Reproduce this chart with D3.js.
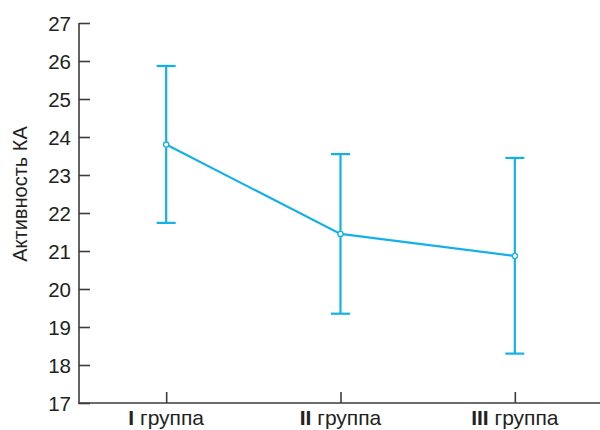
<!DOCTYPE html>
<html>
<head>
<meta charset="utf-8">
<script src="https://cdn.jsdelivr.net/npm/d3@7"></script>
<style>
  html, body { margin: 0; padding: 0; background: #fff; }
  svg { display: block; font-family: "Liberation Sans", Arial, sans-serif; }
</style>
</head>
<body>
<svg id="chart" width="600" height="430"></svg>
<script>
// Group labels (Roman numeral drawn bold) and measured activity
const groupNumerals = ["I", "II", "III"];
const groupWord = "группа";
const means = [23.8, 21.45, 20.87];
const upper = [25.87, 23.55, 23.45];
const lower = [21.74, 19.35, 18.3];
const yTicks = [17, 18, 19, 20, 21, 22, 23, 24, 25, 26, 27];
const yTitle = "Активность КА";

const svg = d3.select("#chart");
const color = "#14b1e7";
const axisColor = "#3c3c3c";

const x = d3.scalePoint().domain(groupNumerals).range([79, 602]).padding(0.5);
const y = d3.scaleLinear().domain([17, 27]).range([403, 23]);

// Y axis with inward ticks
const yAxis = svg.append("g").attr("transform", "translate(79,0)")
  .call(d3.axisRight(y).tickValues(yTicks).tickSize(11).tickSizeOuter(0).tickFormat(d3.format("d")));
yAxis.select(".domain").remove();
yAxis.selectAll(".tick line").attr("stroke", axisColor).attr("stroke-width", 1.6);
yAxis.selectAll(".tick text")
  .attr("x", -8).attr("text-anchor", "end")
  .attr("font-size", 20.5).attr("fill", "#222").attr("dy", "0.35em");
svg.append("line").attr("x1", 79).attr("x2", 79).attr("y1", y(27)).attr("y2", 403.8)
  .attr("stroke", axisColor).attr("stroke-width", 1.6);

// X axis with upward ticks
const xAxis = svg.append("g").attr("transform", "translate(0,403)")
  .call(d3.axisTop(x).tickSize(11).tickSizeOuter(0).tickFormat(""));
xAxis.select(".domain").remove();
xAxis.selectAll(".tick line").attr("stroke", axisColor).attr("stroke-width", 1.6);
svg.append("line").attr("x1", 78.2).attr("x2", 600).attr("y1", 403).attr("y2", 403)
  .attr("stroke", axisColor).attr("stroke-width", 1.6);

// Category labels
const lbl = svg.append("g").selectAll("text").data(groupNumerals).join("text")
  .attr("x", d => x(d)).attr("y", 424.5)
  .attr("text-anchor", "middle").attr("font-size", 21).attr("fill", "#222");
lbl.append("tspan").attr("font-weight", "bold").text(d => d);
lbl.append("tspan").text(" " + groupWord);

// Y axis title
svg.append("text")
  .attr("transform", `translate(27,${y(22.5)}) rotate(-90)`)
  .attr("text-anchor", "middle").attr("font-size", 20).attr("fill", "#222")
  .text(yTitle);

// Error bars
const eb = svg.append("g").selectAll("g").data(groupNumerals).join("g");
eb.append("line")
  .attr("x1", d => x(d)).attr("x2", d => x(d))
  .attr("y1", (d, i) => y(upper[i])).attr("y2", (d, i) => y(lower[i]))
  .attr("stroke", color).attr("stroke-width", 2.2);
eb.append("line")
  .attr("x1", d => x(d) - 9.5).attr("x2", d => x(d) + 9.5)
  .attr("y1", (d, i) => y(upper[i])).attr("y2", (d, i) => y(upper[i]))
  .attr("stroke", color).attr("stroke-width", 2.2);
eb.append("line")
  .attr("x1", d => x(d) - 9.5).attr("x2", d => x(d) + 9.5)
  .attr("y1", (d, i) => y(lower[i])).attr("y2", (d, i) => y(lower[i]))
  .attr("stroke", color).attr("stroke-width", 2.2);

// Mean line
svg.append("path")
  .datum(groupNumerals)
  .attr("fill", "none").attr("stroke", color).attr("stroke-width", 2.2)
  .attr("d", d3.line().x(d => x(d)).y((d, i) => y(means[i])));

// Mean markers
svg.append("g").selectAll("circle").data(groupNumerals).join("circle")
  .attr("cx", d => x(d)).attr("cy", (d, i) => y(means[i])).attr("r", 2.6)
  .attr("fill", "#fff").attr("stroke", color).attr("stroke-width", 1.3);
</script>
</body>
</html>
